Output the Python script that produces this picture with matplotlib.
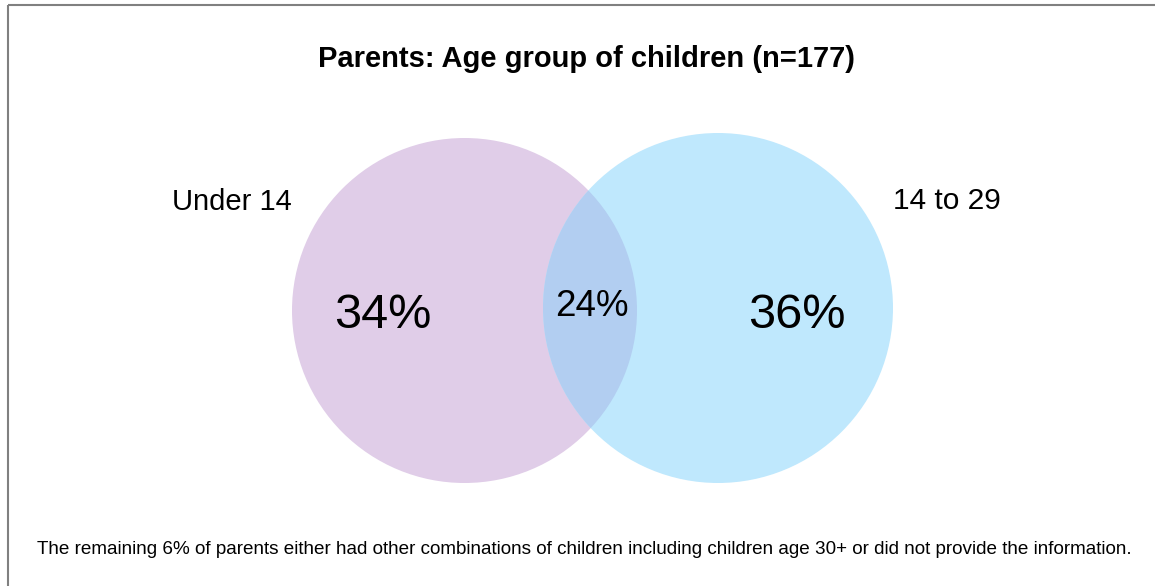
import matplotlib
matplotlib.use("Agg")
import matplotlib.pyplot as plt
from matplotlib.patches import Circle

# Data
title = "Parents: Age group of children (n=177)"
categories = ["Under 14", "14 to 29"]
only_values = [34, 36]
overlap_value = 24
footnote = ("The remaining 6% of parents either had other combinations of children "
            "including children age 30+ or did not provide the information.")

plt.rcParams['font.family'] = ['Liberation Sans', 'DejaVu Sans']

W, H = 1155, 586
fig = plt.figure(figsize=(W / 100, H / 100), dpi=100)
ax = fig.add_axes([0, 0, 1, 1])
ax.set_xlim(0, W)
ax.set_ylim(H, 0)
ax.set_aspect('equal')
ax.axis('off')

# Border (top and left visible)
ax.plot([8, W + 5], [5, 5], color='#808080', lw=1.5, solid_capstyle='butt')
ax.plot([8, 8], [5, H + 5], color='#808080', lw=1.5, solid_capstyle='butt')

left_c = (464.5, 310.5, 172.5)
right_c = (718, 308, 175)
c_left = Circle(left_c[:2], left_c[2], facecolor='#E0CDE8', edgecolor='none')
c_right = Circle(right_c[:2], right_c[2], facecolor='#BFE8FD', edgecolor='none')
ax.add_patch(c_left)
ax.add_patch(c_right)
c_ov = Circle(right_c[:2], right_c[2], facecolor='#B2CEF1', edgecolor='none')
ax.add_patch(c_ov)
c_ov.set_clip_path(Circle(left_c[:2], left_c[2], transform=ax.transData))

ax.text(586, 59, title, ha='center', va='center', fontsize=21, fontweight='bold')
ax.text(232, 202, categories[0], ha='center', va='center', fontsize=21)
ax.text(947, 201, categories[1], ha='center', va='center', fontsize=21.5)
ax.text(383, 316, f"{only_values[0]}%", ha='center', va='center', fontsize=35)
ax.text(797, 315, f"{only_values[1]}%", ha='center', va='center', fontsize=35)
ax.text(592, 306, f"{overlap_value}%", ha='center', va='center', fontsize=26.5)
ax.text(37, 550, footnote, ha='left', va='center', fontsize=13.6)

fig.savefig('out.png', dpi=100)
